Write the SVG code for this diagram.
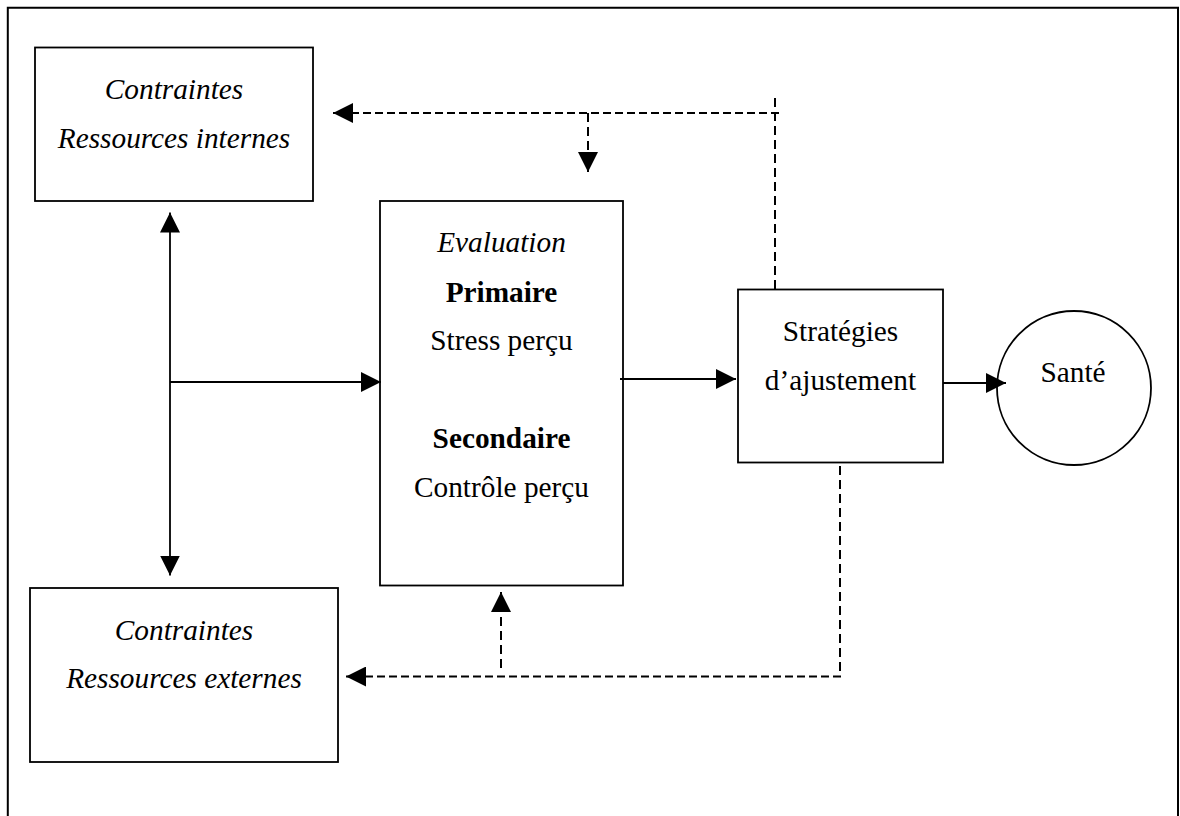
<svg xmlns="http://www.w3.org/2000/svg" width="1180" height="816" viewBox="0 0 1180 816">
  <style>
    .box { fill: #fff; stroke: #000; stroke-width: 1.8; }
    .t { font-family: "Liberation Serif", "Times New Roman", serif; font-size: 29.3px; fill: #000; text-anchor: middle; }
    .i { font-style: italic; }
    .b { font-weight: bold; }
    .ln { fill: none; stroke: #000; stroke-width: 1.8; }
    .dash { stroke-width: 2; stroke-dasharray: 8 4; }
    .vdash { stroke-width: 2; stroke-dasharray: 9 5; }
  </style>
  <defs>
    <marker id="ah" markerUnits="userSpaceOnUse" markerWidth="20" markerHeight="20" refX="20" refY="10" orient="auto-start-reverse" viewBox="0 0 20 20">
      <path d="M0,0 L20,10 L0,20 Z" fill="#000"/>
    </marker>
  </defs>
  <rect width="1180" height="816" fill="#fff"/>
  <path d="M7.8,816 V7.8 H1178 V816" fill="none" stroke="#000" stroke-width="2"/>

  <g id="internes">
    <rect class="box" x="35" y="47.5" width="278" height="153.5"/>
    <text class="t i" x="174" y="99">Contraintes</text>
    <text class="t i" x="174" y="148">Ressources internes</text>
  </g>

  <g id="externes">
    <rect class="box" x="30" y="588" width="308" height="174"/>
    <text class="t i" x="184" y="640">Contraintes</text>
    <text class="t i" x="184" y="688">Ressources externes</text>
  </g>

  <g id="evaluation">
    <rect class="box" x="380" y="201" width="243" height="384.5"/>
    <text class="t i" x="501.5" y="252">Evaluation</text>
    <text class="t b" x="501.5" y="302">Primaire</text>
    <text class="t" x="501.5" y="350">Stress perçu</text>
    <text class="t b" x="501.5" y="448">Secondaire</text>
    <text class="t" x="501.5" y="497">Contrôle perçu</text>
  </g>

  <g id="strategies">
    <rect class="box" x="738" y="289.5" width="205" height="173"/>
    <text class="t" x="840.5" y="341">Stratégies</text>
    <text class="t" x="840.5" y="390">d’ajustement</text>
  </g>

  <g id="sante">
    <circle class="box" cx="1074" cy="388" r="77"/>
    <text class="t" x="1073" y="382">Santé</text>
  </g>

  <g id="connectors">
    <line class="ln" x1="170" y1="212.5" x2="170" y2="575.5" marker-start="url(#ah)" marker-end="url(#ah)"/>
    <line class="ln" x1="170" y1="382" x2="381" y2="382" marker-end="url(#ah)"/>
    <line class="ln" x1="620" y1="379" x2="736" y2="379" marker-end="url(#ah)"/>
    <line class="ln" x1="943" y1="383" x2="1006" y2="383" marker-end="url(#ah)"/>

    <line class="ln vdash" x1="775" y1="98" x2="775" y2="290"/>
    <line class="ln dash" x1="779" y1="113" x2="333" y2="113" marker-end="url(#ah)"/>
    <line class="ln vdash" x1="588" y1="113" x2="588" y2="172" marker-end="url(#ah)"/>

    <line class="ln vdash" x1="840" y1="466" x2="840" y2="676.5"/>
    <line class="ln dash" x1="841" y1="676.5" x2="346" y2="676.5" marker-end="url(#ah)"/>
    <line class="ln vdash" x1="501" y1="668" x2="501" y2="592" marker-end="url(#ah)"/>
  </g>
</svg>
